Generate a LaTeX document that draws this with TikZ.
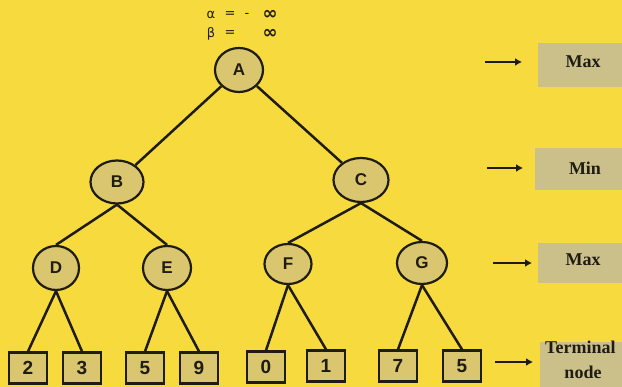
\documentclass[tikz,border=0pt]{standalone}
\usepackage{fontspec}
\setmainfont{Liberation Serif}
\newfontfamily\lblsans{Liberation Sans}
\newfontfamily\symfont{DejaVu Sans}
\usetikzlibrary{shapes.geometric,arrows.meta}
\definecolor{bgyellow}{RGB}{247,218,62}
\definecolor{nodefill}{RGB}{218,198,110}
\definecolor{labfill}{RGB}{204,192,138}
\definecolor{ink}{RGB}{30,28,20}
\tikzset{
  tnode/.style={ellipse, draw=ink, line width=2.2pt, fill=nodefill, inner sep=0pt,
    font=\lblsans\bfseries\fontsize{17}{17}\selectfont, text=ink},
  leafbox/.style={rectangle, draw=ink, line width=2.2pt, fill=nodefill, inner sep=0pt,
    minimum width=38pt, minimum height=31pt,
    font=\lblsans\bfseries\fontsize{19}{19}\selectfont, text=ink},
  edge/.style={draw=ink, line width=2.5pt},
  levarrow/.style={draw=ink, line width=2.6pt, -{Latex[length=7pt,width=8pt]}},
  levbox/.style={rectangle, fill=labfill, inner sep=0pt, anchor=north west},
  levtext/.style={font=\bfseries\fontsize{18}{18}\selectfont, text=ink},
  abtext/.style={font=\symfont\fontsize{13}{13}\selectfont, text=ink, inner sep=0pt},
  inftext/.style={font=\symfont\bfseries\fontsize{18}{18}\selectfont, text=ink, inner sep=0pt}
}
\begin{document}
\begin{tikzpicture}[x=1pt,y=-1pt]
\fill[bgyellow] (0,0) rectangle (622,387);
\useasboundingbox (0,0) rectangle (622,387);

% alpha beta
\node[abtext] (al) at (211,15) {α};
\node[abtext] (aleq) at (230,15) {=};
\node[abtext] (alm) at (247,15) {-};
\node[inftext] (alinf) at (270,15) {∞};
\node[abtext] (be) at (211,34) {β};
\node[abtext] (beeq) at (230,34) {=};
\node[inftext] (beinf) at (270,34) {∞};

% tree nodes
\node[tnode, minimum width=48pt, minimum height=44pt] (A) at (239,70) {A};
\node[tnode, minimum width=53pt, minimum height=43pt] (B) at (117,182) {B};
\node[tnode, minimum width=55pt, minimum height=44pt] (C) at (361,180) {C};
\node[tnode, minimum width=46pt, minimum height=44pt] (D) at (56,268) {D};
\node[tnode, minimum width=48pt, minimum height=44pt] (E) at (167,268) {E};
\node[tnode, minimum width=47pt, minimum height=40pt] (F) at (288,264) {F};
\node[tnode, minimum width=50pt, minimum height=42pt] (G) at (422,263) {G};

% leaves
\node[leafbox] (l1) at (28,368) {2};
\node[leafbox] (l2) at (82,368) {3};
\node[leafbox] (l3) at (145,368) {5};
\node[leafbox] (l4) at (199,368) {9};
\node[leafbox] (l5) at (266,367) {0};
\node[leafbox] (l6) at (326,366) {1};
\node[leafbox] (l7) at (398,366) {7};
\node[leafbox] (l8) at (462,366) {5};

% edges
\begin{scope}[on background layer/.style={}]
\draw[edge] (A) -- (B);
\draw[edge] (A) -- (C);
\draw[edge] (B.south) -- (D.north);
\draw[edge] (B.south) -- (E.north);
\draw[edge] (C.south) -- (F.north);
\draw[edge] (C.south) -- (G.north);
\draw[edge] (D.south) -- (l1.north);
\draw[edge] (D.south) -- (l2.north);
\draw[edge] (E.south) -- (l3.north);
\draw[edge] (E.south) -- (l4.north);
\draw[edge] (F.south) -- (l5.north);
\draw[edge] (F.south) -- (l6.north);
\draw[edge] (G.south) -- (l7.north);
\draw[edge] (G.south) -- (l8.north);
\end{scope}

% level labels
\node[levbox, minimum width=90pt, minimum height=44pt] (bx1) at (538,43) {};
\node[levbox, minimum width=90pt, minimum height=42pt] (bx2) at (535,148) {};
\node[levbox, minimum width=90pt, minimum height=40pt] (bx3) at (538,243) {};
\node[levbox, minimum width=90pt, minimum height=50pt] (bx4) at (540,342) {};
\node[levtext] (t1) at (583,62) {Max};
\node[levtext] (t2) at (585,168) {Min};
\node[levtext] (t3) at (583,260) {Max};
\node[levtext, anchor=west, inner sep=0pt] (t4) at (545,347) {Terminal};
\node[levtext] (t5) at (583,372) {node};

\coordinate (s1) at (485,62);
\coordinate (s2) at (487,168);
\coordinate (s3) at (493,263);
\coordinate (s4) at (495,362);
\draw[levarrow] (s1) -- ([xshift=-16pt]bx1.west |- s1);
\draw[levarrow] (s2) -- ([xshift=-12pt]bx2.west |- s2);
\draw[levarrow] (s3) -- ([xshift=-6pt]bx3.west |- s3);
\draw[levarrow] (s4) -- ([xshift=-7pt]bx4.west |- s4);
\end{tikzpicture}
\end{document}
